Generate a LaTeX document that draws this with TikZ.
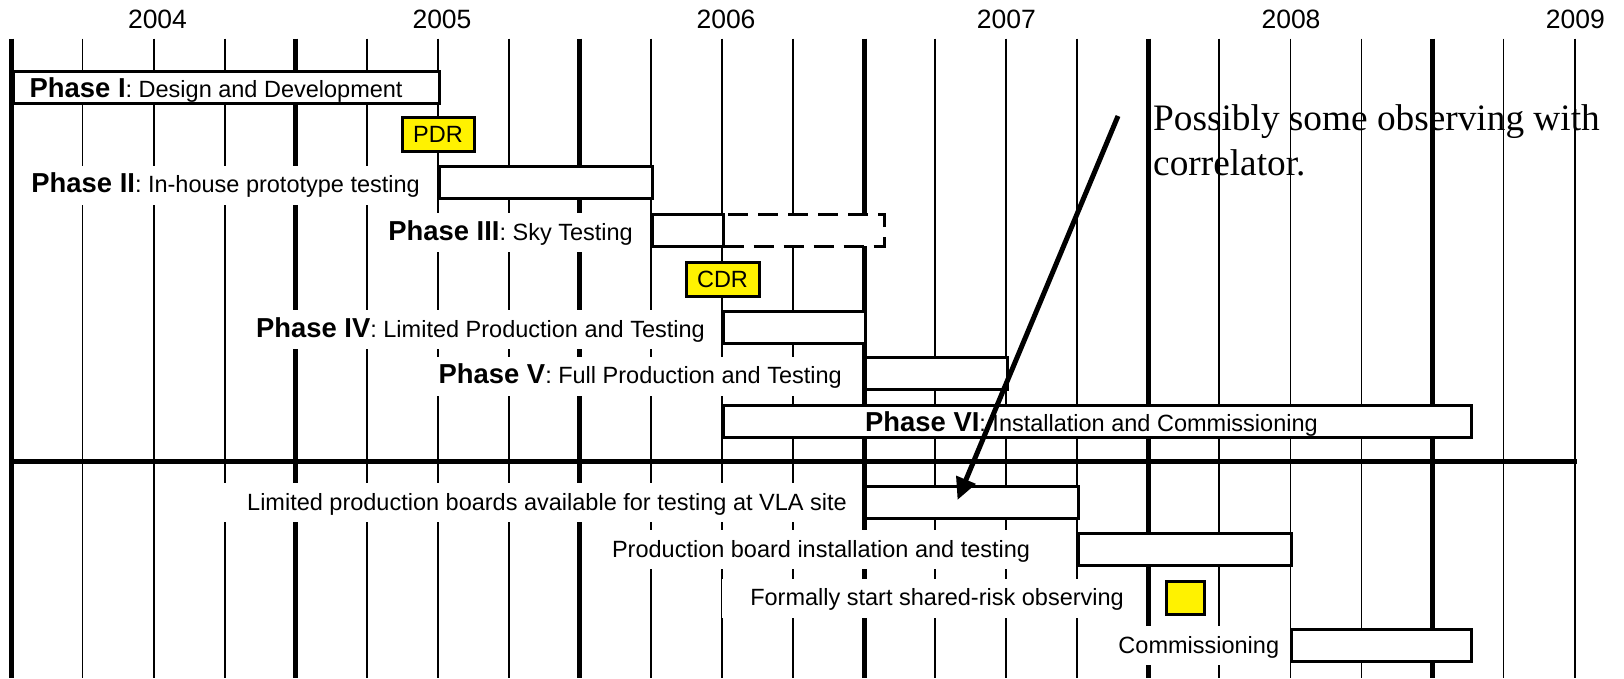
\documentclass[tikz,border=0pt]{standalone}
\usepackage{fontspec}
\setmainfont{Liberation Sans}
\newfontfamily\notefont{Liberation Serif}
\usetikzlibrary{arrows.meta}
\newcommand{\regsize}{\fontsize{23.5}{28}\selectfont}
\newcommand{\phb}[1]{{\fontsize{27.4}{30}\selectfont\bfseries #1}}
\begin{document}
\begin{tikzpicture}[x=1pt,y=-1pt,
  gridthin/.style={line width=1.8pt},
  gridthick/.style={line width=5pt},
  bar/.style={draw, line width=3pt, fill=white, minimum height=32pt, inner sep=0pt, anchor=west},
  dashbar/.style={bar, dash pattern=on 20pt off 10pt},
  milestone/.style={draw, line width=3pt, fill=yellow, inner sep=0pt, font=\regsize},
  lab/.style={fill=white, inner xsep=4pt, inner ysep=4pt, text height=23pt, text depth=8pt, anchor=base east, font=\regsize},
  inlab/.style={inner sep=0pt, anchor=base west, font=\regsize},
  year/.style={anchor=base, font=\fontsize{26.5}{30}\selectfont},
  note/.style={anchor=base west, align=left, inner sep=0pt, font=\notefont\fontsize{37.3}{45}\selectfont},
  pointer/.style={line width=5pt, -{Triangle[length=22pt,width=20pt]}}
]
\useasboundingbox (0,0) rectangle (1624,678);
\fill[white] (0,0) rectangle (1624,678);
% grid
\foreach \i in {1,2,3,5,6,7,9,10,11,13,14,15,17,18,19,21,22}
  \draw[gridthin] ({11.5+71.05*\i},38.5) -- ({11.5+71.05*\i},678);
\foreach \i in {0,4,8,12,16,20}
  \draw[gridthick] ({11.5+71.05*\i},38.5) -- ({11.5+71.05*\i},678);
% years
\foreach \y/\xx in {2004/157.5,2005/442,2006/726,2007/1006.3,2008/1291,2009/1575.3}
  \node[year] (yr\y) at (\xx,28.5) {\y};
% separator
\draw[line width=4.5pt] (11.5,461.5) -- (1577,461.5);
% Phase I
\node[bar, minimum width=426.3pt] (p1) at (11.5,87) {};
\node[inlab] (p1t) at (29.5,97) {\phb{Phase I}: Design and Development};
% PDR
\node[milestone, minimum width=72pt, minimum height=34pt] (pdr) at (438,134.7) {PDR};
% Phase II
\node[bar, minimum width=213.15pt] (p2) at (437.8,182.5) {};
\node[lab] (p2t) at (424,192.5) {\phb{Phase II}: In-house prototype testing};
% Phase III
\node[dashbar, minimum width=161pt] (p3d) at (722,230) {};
\node[bar, minimum width=71.05pt] (p3) at (650.95,230) {};
\node[lab] (p3t) at (637,240) {\phb{Phase III}: Sky Testing};
% CDR
\node[milestone, minimum width=73pt, minimum height=34pt] (cdr) at (722.5,279) {CDR};
% Phase IV
\node[bar, minimum width=142.1pt] (p4) at (722,327) {};
\node[lab] (p4t) at (709,337) {\phb{Phase IV}: Limited Production and Testing};
% Phase V
\node[bar, minimum width=142.1pt] (p5) at (864.1,373.5) {};
\node[lab] (p5t) at (846,383.5) {\phb{Phase V}: Full Production and Testing};
% Phase VI
\node[bar, minimum width=748pt] (p6) at (722,421.75) {};
\node[inlab] (p6t) at (865,431.75) {\phb{Phase VI}: Installation and Commissioning};
% lower section
\node[bar, minimum width=213.15pt] (l1) at (864.1,502) {};
\node[lab] (l1t) at (851,510) {\hspace*{24pt}Limited production boards available for testing at VLA site};
\node[bar, minimum width=213.15pt] (l2) at (1077.25,549.25) {};
\node[lab] (l2t) at (1034.3,557.25) {\hspace*{24pt}Production board installation and testing};
\node[lab] (l3t) at (1128,605.5) {\hspace*{24pt}Formally start shared-risk observing};
\node[milestone, minimum width=37.6pt, minimum height=33pt] (sq) at (1185.5,597.5) {};
\node[bar, minimum width=179.6pt] (l4) at (1290.4,645) {};
\node[lab] (l4t) at (1283.3,653) {\hspace*{24pt}Commissioning};
% annotation (base anchor = baseline of last line)
\node[note] (nt) at (1153,175) {Possibly some observing with\\correlator.};
\coordinate (tail) at (1118,116);
\coordinate (tip) at (957.5,500);
\draw[pointer] (tail) -- (tip);
\end{tikzpicture}
\end{document}
